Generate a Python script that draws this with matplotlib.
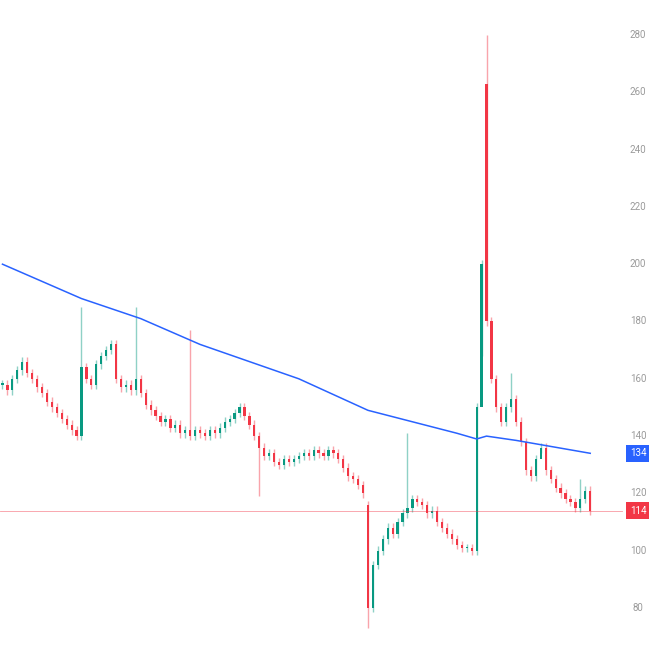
import numpy as np
import matplotlib.pyplot as plt
from matplotlib.transforms import blended_transform_factory

# closing prices, one per candle
closes = [158, 156, 160, 163, 166, 162, 160, 157, 155, 152,
          150, 148, 146, 144, 142, 140, 164, 160, 158, 165,
          168, 170, 172, 160, 157, 158, 156, 160, 155, 151,
          149, 147, 145, 146, 143, 144, 141, 142, 140, 142,
          141, 140, 142, 141, 143, 145, 146, 148, 150, 147,
          144, 140, 136, 133, 134, 131, 130, 132, 131, 132,
          133, 134, 133, 135, 134, 133, 135, 134, 132, 129,
          126, 125, 123, 120, 80, 95, 100, 104, 108, 106,
          110, 113, 115, 118, 117, 116, 113, 114, 110, 108,
          106, 104, 102, 101, 101, 100, 150, 200, 180, 160,
          150, 145, 150, 153, 145, 138, 128, 126, 132, 136,
          128, 125, 122, 120, 118, 117, 115, 118, 121, 114]
open_override = {74: 116, 98: 263}
high_override = {16: 185, 27: 185, 38: 177, 82: 141, 98: 280, 103: 162, 117: 125}
low_override = {52: 119, 74: 73, 97: 168, 109: 134}

# moving average line (candle index, value)
ma_idx = [0, 16, 28, 40, 60, 74, 92, 96, 98, 104, 119]
ma_val = [200, 188, 181, 172, 160, 149, 141, 139, 140, 138.5, 134]

last_price = 114
ma_last = 134
price_ticks = [80, 100, 120, 140, 160, 180, 200, 220, 240, 260, 280]

green, red, blue = '#089981', '#f23645', '#2962ff'

fig = plt.figure(figsize=(6.49, 6.49), dpi=100)
ax = fig.add_axes([0, 0, 1, 1])
ax.set_xlim(-0.5, 130.9)
ax.set_ylim(65.7, 292.2)
ax.axis('off')

for i, c in enumerate(closes):
    o = open_override.get(i, closes[i - 1] if i > 0 else c)
    col = green if c >= o else red
    hi = high_override.get(i, max(o, c) + 1.5)
    lo = low_override.get(i, min(o, c) - 1.5)
    ax.vlines(i, lo, hi, color=col, alpha=0.45, lw=1)
    ax.bar(i, max(abs(c - o), 0.4), bottom=min(o, c), width=0.45, color=col, lw=0)

ax.plot(ma_idx, ma_val, color=blue, lw=1.1)
ax.axhline(last_price, color=red, lw=0.6, alpha=0.5, xmax=126 / 131.4)

tr = blended_transform_factory(fig.transFigure, ax.transData)
for p in price_ticks:
    ax.text(638 / 649, p, str(p), transform=tr, ha='center', va='center',
            fontsize=7, color='#9a9a9a', family='Roboto')
for p, col in [(ma_last, blue), (last_price, red)]:
    ax.text(638 / 649, p, str(p), transform=tr, ha='center', va='center',
            fontsize=7, color='white', family='Roboto',
            bbox=dict(boxstyle='square,pad=0.35', fc=col, ec='none'))

fig.savefig('out.png', dpi=100, facecolor='white')
